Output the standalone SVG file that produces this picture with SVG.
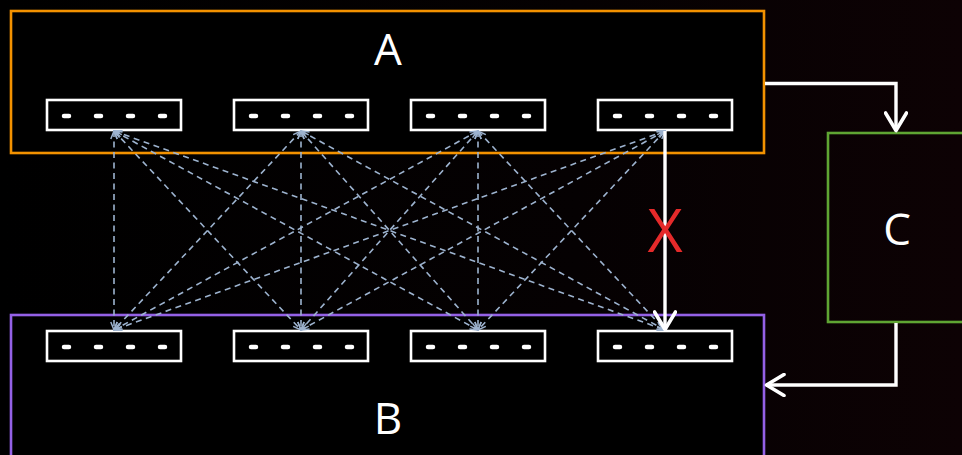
<svg xmlns="http://www.w3.org/2000/svg" width="962" height="455" viewBox="0 0 962 455">
  <defs>
    <linearGradient id="bg" x1="0" y1="0" x2="1" y2="0">
      <stop offset="0" stop-color="#000000"/>
      <stop offset="0.6" stop-color="#050102"/>
      <stop offset="1" stop-color="#0d0204"/>
    </linearGradient>
    <marker id="head" viewBox="0 0 24 24" markerWidth="24" markerHeight="24" refX="22" refY="12" orient="auto" markerUnits="userSpaceOnUse">
      <path d="M4,1.5 L21.5,12 L4,22.5" fill="none" stroke="#ffffff" stroke-width="3.6" stroke-linecap="round" stroke-linejoin="round"/>
    </marker>
    <marker id="tip" viewBox="0 0 10 8" markerWidth="10" markerHeight="8" refX="9" refY="4" orient="auto-start-reverse" markerUnits="userSpaceOnUse">
      <path d="M1,0.8 L9,4 L1,7.2" fill="none" stroke="#9db3cf" stroke-width="1.5"/>
    </marker>
    <style>
      .zone { fill: #000000; stroke-width: 2.6; }
      .port { fill: #000000; stroke: #ffffff; stroke-width: 2.6; }
      .pins { stroke: #ffffff; stroke-width: 4.5; stroke-linecap: round; stroke-dasharray: 5 27; fill: none; }
      .mesh { stroke: #9db3cf; stroke-width: 1.6; stroke-dasharray: 6 4.5; fill: none; marker-start: url(#tip); marker-end: url(#tip); }
      .flow { stroke: #ffffff; stroke-width: 3.4; fill: none; marker-end: url(#head); }
      .label { font-family: "Open Sans", "Noto Sans", sans-serif; fill: #ffffff; text-anchor: middle; }
    </style>
  </defs>

  <rect x="0" y="0" width="962" height="455" fill="url(#bg)"/>

  <!-- Zone A -->
  <g id="zone-a">
    <rect class="zone" x="11" y="11" width="753" height="142" stroke="#f39200"/>
    <text class="label" x="388" y="65" font-size="44">A</text>
  </g>

  <!-- Zone B -->
  <g id="zone-b">
    <rect class="zone" x="11" y="315" width="753" height="150" stroke="#9461e6"/>
    <text class="label" x="388" y="434" font-size="44">B</text>
  </g>

  <!-- Zone C -->
  <g id="zone-c">
    <rect x="828" y="133" width="150" height="189" fill="none" stroke="#5fa533" stroke-width="2.6"/>
    <text class="label" x="897" y="245" font-size="44">C</text>
  </g>

  <!-- Ports in A -->
  <g id="port-a1"><rect class="port" x="47" y="100" width="134" height="30"/><line class="pins" x1="64" y1="116" x2="166" y2="116"/></g>
  <g id="port-a2"><rect class="port" x="234" y="100" width="134" height="30"/><line class="pins" x1="251" y1="116" x2="353" y2="116"/></g>
  <g id="port-a3"><rect class="port" x="411" y="100" width="134" height="30"/><line class="pins" x1="428" y1="116" x2="530" y2="116"/></g>
  <g id="port-a4"><rect class="port" x="598" y="100" width="134" height="30"/><line class="pins" x1="615" y1="116" x2="717" y2="116"/></g>

  <!-- Ports in B -->
  <g id="port-b1"><rect class="port" x="47" y="331" width="134" height="30"/><line class="pins" x1="64" y1="347" x2="166" y2="347"/></g>
  <g id="port-b2"><rect class="port" x="234" y="331" width="134" height="30"/><line class="pins" x1="251" y1="347" x2="353" y2="347"/></g>
  <g id="port-b3"><rect class="port" x="411" y="331" width="134" height="30"/><line class="pins" x1="428" y1="347" x2="530" y2="347"/></g>
  <g id="port-b4"><rect class="port" x="598" y="331" width="134" height="30"/><line class="pins" x1="615" y1="347" x2="717" y2="347"/></g>

  <!-- Connectors -->
  <g id="connectors">
    <!-- full mesh between A ports and B ports -->
    <line class="mesh" x1="114" y1="131" x2="114" y2="330"/>
    <line class="mesh" x1="114" y1="131" x2="301" y2="330"/>
    <line class="mesh" x1="114" y1="131" x2="478" y2="330"/>
    <line class="mesh" x1="114" y1="131" x2="665" y2="330"/>
    <line class="mesh" x1="301" y1="131" x2="114" y2="330"/>
    <line class="mesh" x1="301" y1="131" x2="301" y2="330"/>
    <line class="mesh" x1="301" y1="131" x2="478" y2="330"/>
    <line class="mesh" x1="301" y1="131" x2="665" y2="330"/>
    <line class="mesh" x1="478" y1="131" x2="114" y2="330"/>
    <line class="mesh" x1="478" y1="131" x2="301" y2="330"/>
    <line class="mesh" x1="478" y1="131" x2="478" y2="330"/>
    <line class="mesh" x1="478" y1="131" x2="665" y2="330"/>
    <line class="mesh" x1="665" y1="131" x2="114" y2="330"/>
    <line class="mesh" x1="665" y1="131" x2="301" y2="330"/>
    <line class="mesh" x1="665" y1="131" x2="478" y2="330"/>

    <!-- direct A to B link -->
    <line class="flow" x1="665" y1="131" x2="665" y2="330"/>
    <text x="665" y="252" font-family="'Open Sans', 'Noto Sans', sans-serif" font-size="61" fill="#e52a2a" text-anchor="middle">X</text>

    <!-- A to C -->
    <path class="flow" d="M765,83.5 H896 V131"/>
    <!-- C to B -->
    <path class="flow" d="M896,323 V385 H766"/>
  </g>
</svg>
